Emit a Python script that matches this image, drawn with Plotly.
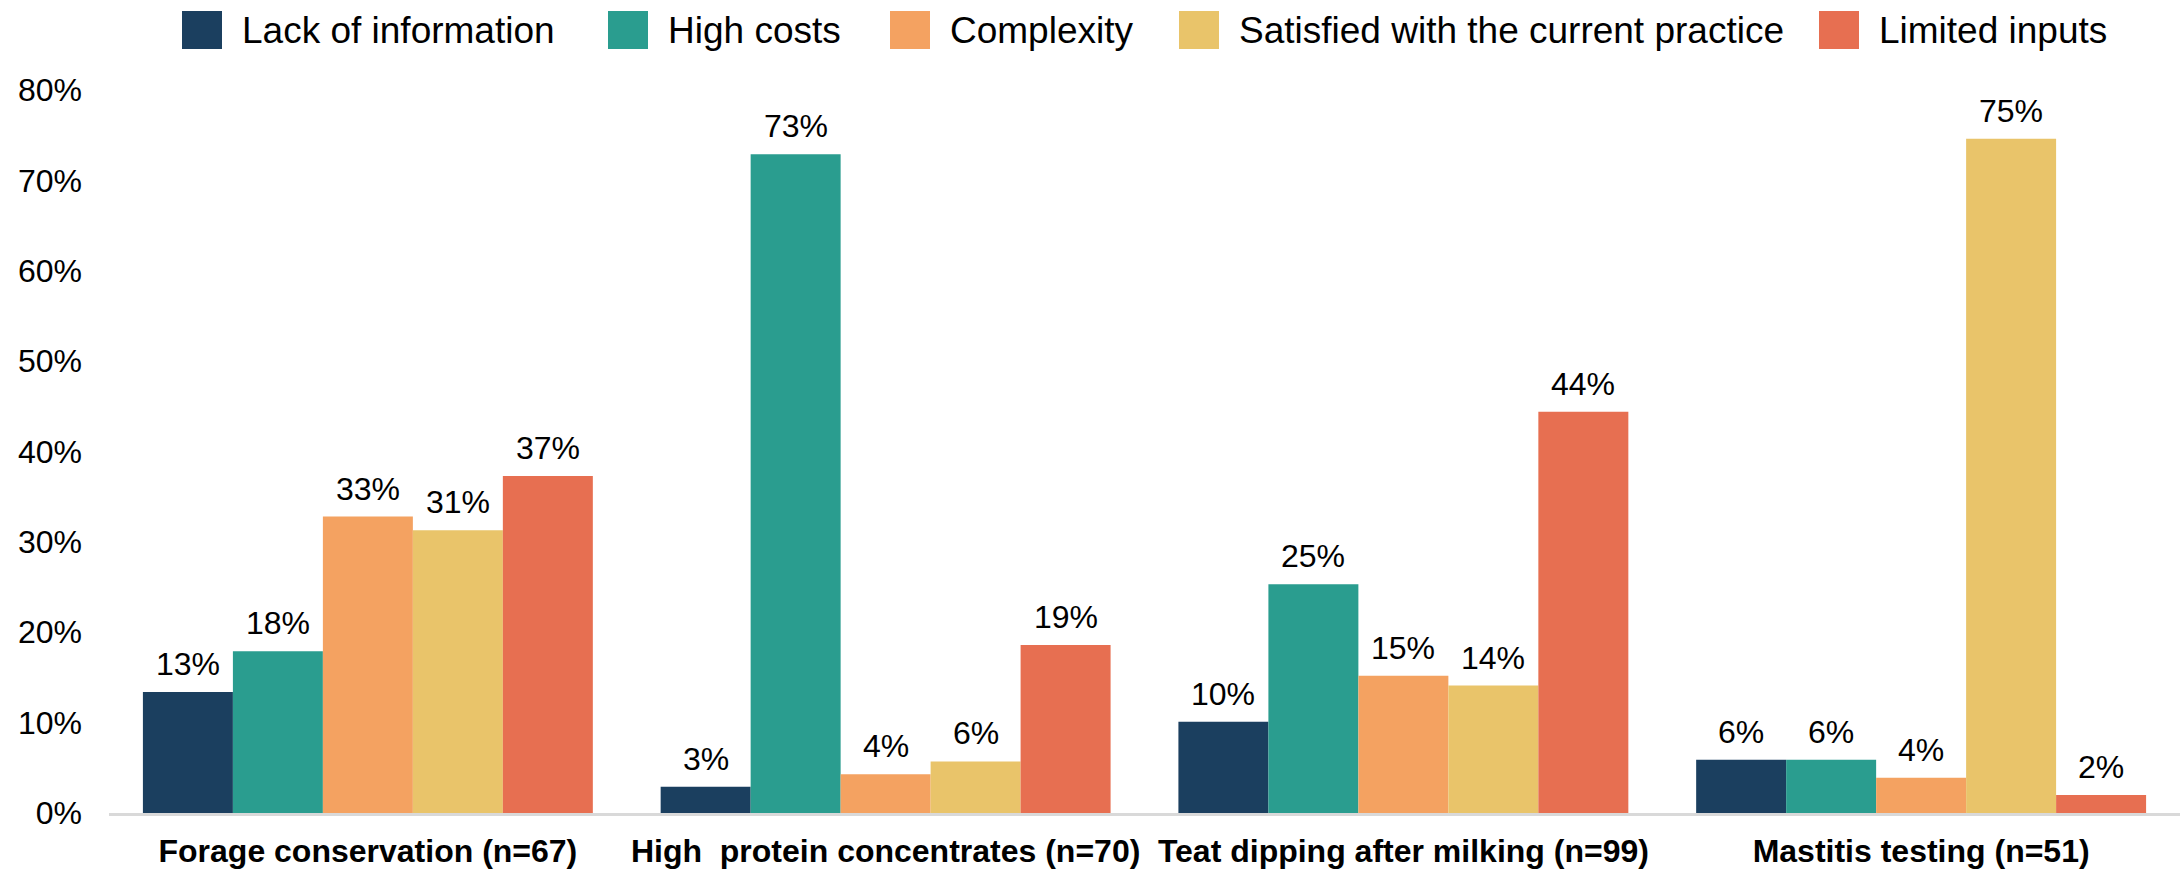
import plotly.graph_objects as go

# Barriers to adopting each practice, share of respondents (%)
categories = [
    "Forage conservation (n=67)",
    "High\u00a0 protein concentrates (n=70)",
    "Teat dipping after milking (n=99)",
    "Mastitis testing (n=51)",
]
series_names = [
    "Lack of information",
    "High costs",
    "Complexity",
    "Satisfied with the current practice",
    "Limited inputs",
]
lack_of_information = [13.4, 2.9, 10.1, 5.9]
high_costs = [17.9, 72.9, 25.3, 5.9]
complexity = [32.8, 4.3, 15.2, 3.9]
satisfied_current = [31.3, 5.7, 14.1, 74.6]
limited_inputs = [37.3, 18.6, 44.4, 2.0]
y_ticks = [0, 10, 20, 30, 40, 50, 60, 70, 80]
y_tick_labels = [f"{v}%" for v in y_ticks]

series_values = [lack_of_information, high_costs, complexity, satisfied_current, limited_inputs]
colors = ["#1b3f5f", "#2a9d8f", "#f4a261", "#e9c46a", "#e76f51"]

W, H = 2180, 871
M_L, M_R, M_T, M_B = 109, 0, 90, 58
PLOT_W = W - M_L - M_R
PLOT_H = H - M_T - M_B
BARGAP = 0.131
FONT = "Arial, 'Liberation Sans', sans-serif"


def px_x(px):
    return (px - M_L) / PLOT_W


def px_y(py):
    return (H - M_B - py) / PLOT_H


fig = go.Figure()
for name, vals, col in zip(series_names, series_values, colors):
    fig.add_trace(go.Bar(
        x=categories, y=vals, name=name,
        marker=dict(color=col, line=dict(width=0)),
        showlegend=False,
    ))

# value labels above each bar
bar_px = PLOT_W / len(categories) * (1 - BARGAP) / len(series_names)
annotations = []
for i, vals in enumerate(series_values):
    for cat, v in zip(categories, vals):
        annotations.append(dict(
            x=cat, y=v, xref="x", yref="y",
            text=f"{v:.0f}%", showarrow=False,
            xshift=(i - (len(series_names) - 1) / 2) * bar_px,
            yanchor="bottom", yshift=8,
            font=dict(family=FONT, size=32, color="#000000"),
        ))

# legend row: square swatches with labels
legend_left_px = [182, 608, 890, 1179, 1819]
shapes = []
for name, col, lx in zip(series_names, colors, legend_left_px):
    shapes.append(dict(
        type="rect", xref="paper", yref="paper",
        x0=px_x(lx), x1=px_x(lx + 40), y0=px_y(49), y1=px_y(11),
        fillcolor=col, line=dict(width=0),
    ))
    annotations.append(dict(
        x=px_x(lx + 58), y=px_y(30), xref="paper", yref="paper",
        xanchor="left", yanchor="middle", showarrow=False,
        text=name, font=dict(family=FONT, size=37, color="#000000"),
    ))

fig.update_layout(
    width=W, height=H,
    margin=dict(l=M_L, r=M_R, t=M_T, b=M_B, autoexpand=False),
    paper_bgcolor="white", plot_bgcolor="white",
    barmode="group", bargap=BARGAP, bargroupgap=0,
    showlegend=False,
    annotations=annotations, shapes=shapes,
    xaxis=dict(
        showgrid=False, zeroline=False,
        showline=True, linecolor="#d9d9d9", linewidth=3,
        ticks="", ticklabelstandoff=8,
        tickfont=dict(family=FONT, size=32, color="#000000", weight="bold"),
        automargin=False,
    ),
    yaxis=dict(
        range=[0, 80], tickmode="array", tickvals=y_ticks, ticktext=y_tick_labels,
        showgrid=False, zeroline=False, showline=False,
        ticks="", ticklabelstandoff=26,
        tickfont=dict(family=FONT, size=32, color="#000000"),
        automargin=False,
    ),
)

fig.write_html("out.html")
